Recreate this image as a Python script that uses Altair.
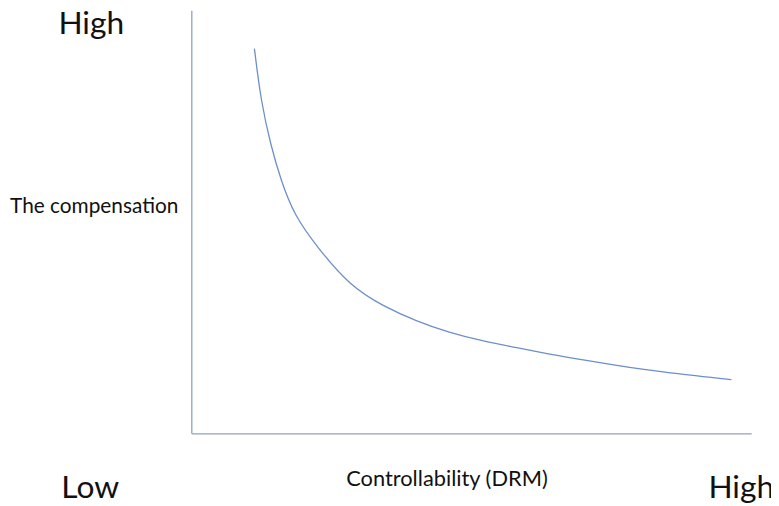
import altair as alt
import pandas as pd

# Curve (abstract 0-100 units)
controllability = [11.27, 12.44, 14.21, 15.98, 18.35, 22.48, 28.37, 34.28, 40.18, 46.07,
                   51.98, 57.88, 63.77, 69.68, 75.58, 83.89, 96.46]
compensation = [90.94, 78.45, 68.0, 59.9, 51.6, 44.0, 34.8, 30.05, 26.53, 23.82,
                21.85, 20.30, 18.74, 17.40, 16.16, 14.52, 12.72]

y_high_label = "High"
y_title = "The compensation"
x_low_label = "Low"
x_title = "Controllability (DRM)"
x_high_label = "High"

FONT = "Lato"
AXIS_COLOR = "#8FA3BA"
CURVE_COLOR = "#6C8FC9"

df = pd.DataFrame({"x": controllability, "y": compensation})

x_axis = alt.Axis(labels=False, ticks=False, grid=False, title=None,
                  domainColor=AXIS_COLOR, domainWidth=1.3)
y_axis = alt.Axis(labels=False, ticks=False, grid=False, title=None,
                  domainColor=AXIS_COLOR, domainWidth=1.3)

curve = alt.Chart(df).mark_line(
    color=CURVE_COLOR, strokeWidth=1.3, interpolate="basis"
).encode(
    x=alt.X("x:Q", scale=alt.Scale(domain=[0, 100], nice=False, zero=False), axis=x_axis),
    y=alt.Y("y:Q", scale=alt.Scale(domain=[0, 100], nice=False, zero=False), axis=y_axis),
)


def label(text, x, y, size):
    return alt.Chart(pd.DataFrame({"t": [text]})).mark_text(
        font=FONT, fontSize=size, color="#111111", align="center", baseline="alphabetic"
    ).encode(text="t:N", x=alt.value(x), y=alt.value(y))


chart = alt.layer(
    curve,
    label(y_high_label, -101, 24, 32),
    label(y_title, -98, 205, 21),
    label(x_low_label, -102, 492, 32),
    label(x_title, 258, 480, 22),
    label(x_high_label, 555, 492, 32),
).properties(
    width=565,
    height=427,
    autosize=alt.AutoSizeParams(type="none"),
    padding={"left": 185, "top": 0, "right": 20, "bottom": 69},
    background="white",
).configure_view(stroke=None)

chart.save("out.html", embed_options={"renderer": "svg", "actions": False})
